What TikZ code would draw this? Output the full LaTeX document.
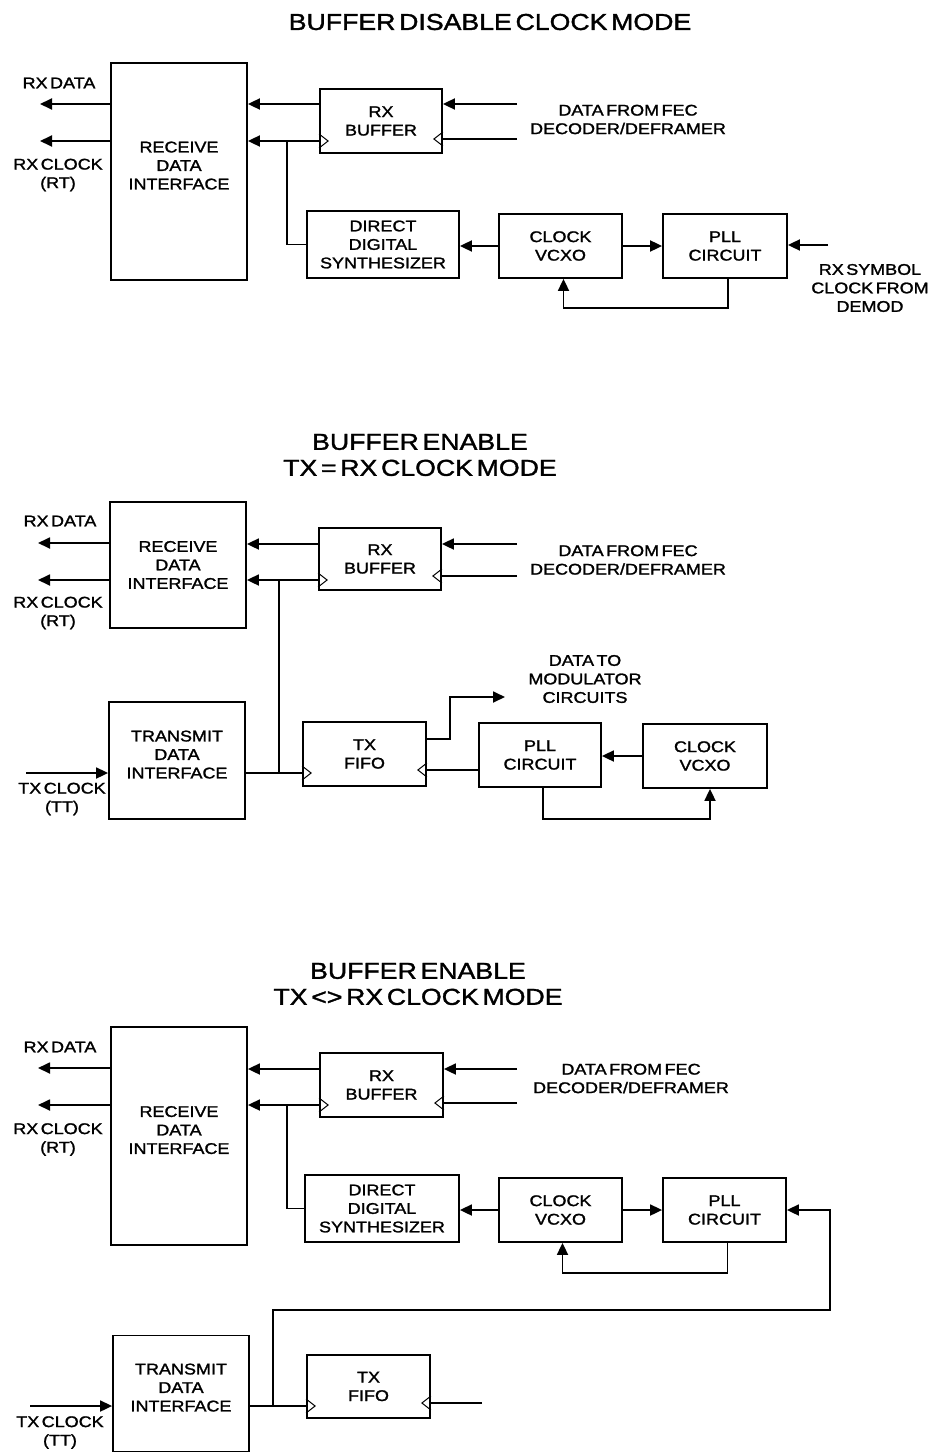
\documentclass[tikz,border=0pt]{standalone}
\usepackage{fontspec}
\setmainfont{Liberation Sans}[FakeStretch=1.16, FakeBold=1.5, WordSpace=0.5]
\usepackage{tikz}
\usetikzlibrary{arrows.meta, positioning}
\newcommand{\lblfont}{\fontsize{15.5}{18.5}\selectfont}
\newcommand{\ttlfont}{\fontsize{23}{26}\selectfont}
\tikzset{
  blk/.style={rectangle, draw, line width=1.8pt, align=center,
              font=\lblfont, inner sep=0pt},
  up/.style={text depth=12pt},
  arr/.style={-{Triangle[length=12pt,width=11pt]}, line width=1.8pt},
  ln/.style={line width=1.8pt},
  txt/.style={align=center, font=\lblfont, inner sep=0pt},
  ttl/.style={align=center, font=\ttlfont, inner sep=0pt},
  clk/.style={line width=1pt},
}
% clock input mark: #1 point on box edge, #2 depth (+ into box to the right, - to the left)
\newcommand{\clkin}[2]{\draw[clk] (#1) ++(0,-7) -- ++(#2,7) -- ++({-(#2)},7);}

\begin{document}
\begin{tikzpicture}[x=1pt, y=-1pt]
  \useasboundingbox (0,0) rectangle (934,1453);

  % ── Buffer disable ─────────────────────────────────────────────────────────
  \node[ttl] (ttlA) at (490,22) {BUFFER DISABLE CLOCK MODE};
  \node[blk, up, minimum width=136, minimum height=217] (rdiA) at (179,171.5) {RECEIVE\\DATA\\INTERFACE};
  \node[blk, minimum width=122, minimum height=64]  (rxbA) at (381,121)   {RX\\BUFFER};
  \node[blk, minimum width=152, minimum height=67]  (ddsA) at (383,244.5) {DIRECT\\DIGITAL\\SYNTHESIZER};
  \node[blk, minimum width=123, minimum height=64]  (vcxA) at (560.5,246) {CLOCK\\VCXO};
  \node[blk, minimum width=124, minimum height=64]  (pllA) at (725,246)   {PLL\\CIRCUIT};

  \node[txt] (rxdA) at (59,83)     {RX DATA};
  \node[txt] (rxcA) at (58,175)    {RX CLOCK\\(RT)};
  \node[txt] (fecA) at (628,119.5) {DATA FROM FEC\\DECODER/DEFRAMER};
  \node[txt] (symA) at (870,288)   {RX SYMBOL\\CLOCK FROM\\DEMOD};

  \coordinate (rxdAo) at (40,104);
  \coordinate (rxcAo) at (40,141);
  \coordinate (fecAi) at (517,104);
  \coordinate (fecAc) at (517,139);
  \coordinate (brA)   at (287,141);
  \coordinate (symAi) at (828,245);

  \draw[arr] (rdiA.west |- rxdAo) -- (rxdAo);
  \draw[arr] (rdiA.west |- rxcAo) -- (rxcAo);
  \draw[arr] (rxbA.west |- fecAi) -- (rdiA.east |- fecAi);
  \draw[arr] (rxbA.west |- brA) -- (rdiA.east |- brA);
  \clkin{rxbA.west |- brA}{9}
  \draw[arr] (fecAi) -- (rxbA.east |- fecAi);
  \draw[ln]  (fecAc) -- (rxbA.east |- fecAc);
  \clkin{rxbA.east |- fecAc}{-9}
  \draw[ln]  (brA) |- (ddsA.west);
  \draw[arr] (vcxA.west) -- (ddsA.east |- vcxA.west);
  \draw[arr] (vcxA.east) -- (pllA.west);
  \draw[arr] ([xshift=3]pllA.south) -- ++(0,29) -| ([xshift=3]vcxA.south);
  \draw[arr] (symAi) -- (pllA.east |- symAi);

  % ── Buffer enable, TX = RX ─────────────────────────────────────────────────
  \node[ttl] (ttlB) at (420,455) {BUFFER ENABLE\\TX = RX CLOCK MODE};
  \node[blk, minimum width=136, minimum height=126] (rdiB)  at (178,565)   {RECEIVE\\DATA\\INTERFACE};
  \node[blk, minimum width=122, minimum height=62]  (rxbB)  at (380,559)   {RX\\BUFFER};
  \node[blk, up, minimum width=136, minimum height=117] (tdiB)  at (177,760.5) {TRANSMIT\\DATA\\INTERFACE};
  \node[blk, minimum width=123, minimum height=64]  (fifoB) at (364.5,754) {TX\\FIFO};
  \node[blk, minimum width=122, minimum height=64]  (pllB)  at (540,755)   {PLL\\CIRCUIT};
  \node[blk, minimum width=124, minimum height=64]  (vcxB)  at (705,756)   {CLOCK\\VCXO};

  \node[txt] (rxdB) at (60,521)  {RX DATA};
  \node[txt] (rxcB) at (58,613)  {RX CLOCK\\(RT)};
  \node[txt] (fecB) at (628,560) {DATA FROM FEC\\DECODER/DEFRAMER};
  \node[txt] (txcB) at (62,799)  {TX CLOCK\\(TT)};
  \node[txt] (dtmB) at (585,679) {DATA TO\\MODULATOR\\CIRCUITS};

  \coordinate (rxdBo) at (38,543);
  \coordinate (brB)   at (279,580);
  \coordinate (rxcBo) at (38,580);
  \coordinate (fecBi) at (517,544);
  \coordinate (fecBc) at (517,576);
  \coordinate (txcBi) at (26,773);
  \coordinate (dtmBo) at (505,697);

  \draw[arr] (rdiB.west |- rxdBo) -- (rxdBo);
  \draw[arr] (rdiB.west |- rxcBo) -- (rxcBo);
  \draw[arr] (rxbB.west |- fecBi) -- (rdiB.east |- fecBi);
  \draw[arr] (rxbB.west |- brB) -- (rdiB.east |- brB);
  \clkin{rxbB.west |- brB}{9}
  \draw[arr] (fecBi) -- (rxbB.east |- fecBi);
  \draw[ln]  (fecBc) -- (rxbB.east |- fecBc);
  \clkin{rxbB.east |- fecBc}{-9}
  \draw[arr] (txcBi) -- (tdiB.west |- txcBi);
  \draw[ln]  (tdiB.east |- txcBi) -- (fifoB.west |- txcBi);
  \clkin{fifoB.west |- txcBi}{9}
  \draw[ln]  (brB) -- (brB |- txcBi);
  \draw[arr] (fifoB.east |- 0,739) -| ([xshift=-55]dtmBo) -- (dtmBo);
  \draw[ln]  (pllB.west |- 0,770) -- (fifoB.east |- 0,770);
  \clkin{fifoB.east |- 0,770}{-9}
  \draw[arr] (vcxB.west) -- (pllB.east |- vcxB.west);
  \draw[arr] ([xshift=3]pllB.south) -- ++(0,31) -| ([xshift=5]vcxB.south);

  % ── Buffer enable, TX <> RX ────────────────────────────────────────────────
  \node[ttl] (ttlC) at (418,984) {BUFFER ENABLE\\TX <> RX CLOCK MODE};
  \node[blk, up, minimum width=136, minimum height=218] (rdiC)  at (179,1136)    {RECEIVE\\DATA\\INTERFACE};
  \node[blk, minimum width=123, minimum height=64]  (rxbC)  at (381.5,1085)  {RX\\BUFFER};
  \node[blk, minimum width=154, minimum height=67]  (ddsC)  at (382,1208.5)  {DIRECT\\DIGITAL\\SYNTHESIZER};
  \node[blk, minimum width=123, minimum height=64]  (vcxC)  at (560.5,1210)  {CLOCK\\VCXO};
  \node[blk, minimum width=123, minimum height=64]  (pllC)  at (724.5,1210)  {PLL\\CIRCUIT};
  \node[blk, up, minimum width=136, minimum height=116] (tdiC)  at (181,1393.5)  {TRANSMIT\\DATA\\INTERFACE};
  \node[blk, minimum width=123, minimum height=63]  (fifoC) at (368.5,1386.5){TX\\FIFO};

  \node[txt] (rxdC) at (60,1047)    {RX DATA};
  \node[txt] (rxcC) at (58,1139.5)  {RX CLOCK\\(RT)};
  \node[txt] (fecC) at (631,1078.5) {DATA FROM FEC\\DECODER/DEFRAMER};
  \node[txt] (txcC) at (60,1432.5)  {TX CLOCK\\(TT)};

  \coordinate (rxdCo) at (38,1068);
  \coordinate (brC)   at (287,1105);
  \coordinate (rxcCo) at (38,1105);
  \coordinate (fecCi) at (517,1069);
  \coordinate (fecCc) at (517,1103);
  \coordinate (txcCi) at (30,1406);
  \coordinate (tbrC)  at (273,1406);
  \coordinate (rtC)   at (830,1310);
  \coordinate (fifoCo) at (482,1403);

  \draw[arr] (rdiC.west |- rxdCo) -- (rxdCo);
  \draw[arr] (rdiC.west |- rxcCo) -- (rxcCo);
  \draw[arr] (rxbC.west |- fecCi) -- (rdiC.east |- fecCi);
  \draw[arr] (rxbC.west |- brC) -- (rdiC.east |- brC);
  \clkin{rxbC.west |- brC}{9}
  \draw[arr] (fecCi) -- (rxbC.east |- fecCi);
  \draw[ln]  (fecCc) -- (rxbC.east |- fecCc);
  \clkin{rxbC.east |- fecCc}{-9}
  \draw[ln]  (brC) |- (ddsC.west);
  \draw[arr] (vcxC.west) -- (ddsC.east |- vcxC.west);
  \draw[arr] (vcxC.east) -- (pllC.west);
  \draw[arr] ([xshift=3]pllC.south) -- ++(0,30) -| ([xshift=2]vcxC.south);
  \draw[arr] (txcCi) -- (tdiC.west |- txcCi);
  \draw[ln]  (tdiC.east |- txcCi) -- (fifoC.west |- txcCi);
  \clkin{fifoC.west |- txcCi}{9}
  \draw[arr] (tbrC) |- (rtC) |- (pllC.east);
  \draw[ln]  (fifoCo) -- (fifoC.east |- fifoCo);
  \clkin{fifoC.east |- fifoCo}{-9}
\end{tikzpicture}
\end{document}
